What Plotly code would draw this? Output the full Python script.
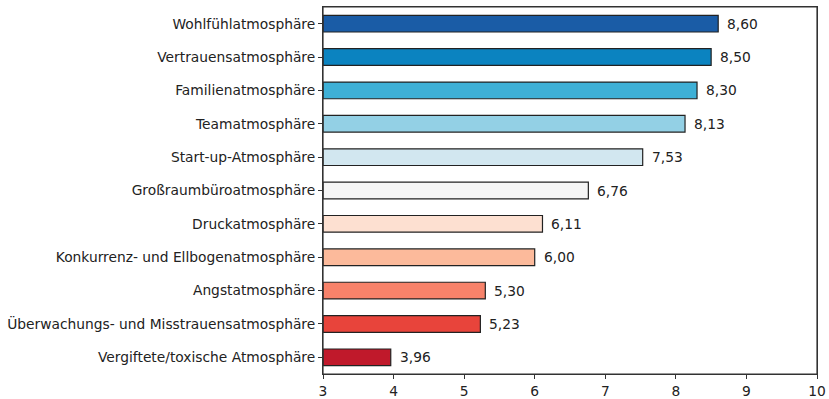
import plotly.graph_objects as go

categories = [
    "Wohlfühlatmosphäre",
    "Vertrauensatmosphäre",
    "Familienatmosphäre",
    "Teamatmosphäre",
    "Start-up-Atmosphäre",
    "Großraumbüroatmosphäre",
    "Druckatmosphäre",
    "Konkurrenz- und Ellbogenatmosphäre",
    "Angstatmosphäre",
    "Überwachungs- und Misstrauensatmosphäre",
    "Vergiftete/toxische Atmosphäre",
]
values = [8.60, 8.50, 8.30, 8.13, 7.53, 6.76, 6.11, 6.00, 5.30, 5.23, 3.96]
value_labels = ["8,60", "8,50", "8,30", "8,13", "7,53", "6,76", "6,11", "6,00", "5,30", "5,23", "3,96"]
colors = ["#1a5ca6", "#0b83c0", "#3eb0d6", "#93d0e5", "#d2e7f0", "#f5f5f5",
          "#fde0d1", "#fcba9b", "#f7826a", "#e8443b", "#c0192b"]
tick_vals = [3, 4, 5, 6, 7, 8, 9, 10]

FONT = "DejaVu Sans"
FS = 13.8

fig = go.Figure()
fig.add_trace(go.Bar(
    x=[v - 3 for v in values],
    base=3,
    y=categories,
    orientation="h",
    width=0.5,
    marker=dict(color=colors, line=dict(color="#222222", width=1.2)),
    hoverinfo="skip",
))

for c, v, t in zip(categories, values, value_labels):
    fig.add_annotation(x=v, y=c, text=t, showarrow=False, xanchor="left",
                       xshift=7, font=dict(family=FONT, size=FS, color="#222222"))

# plot frame
fig.add_shape(type="rect", xref="paper", yref="paper", x0=0, x1=1, y0=0, y1=1,
              line=dict(color="#333333", width=1.2), fillcolor="rgba(0,0,0,0)", layer="above")

fig.update_layout(
    width=829, height=399,
    margin=dict(l=323, r=12, t=7, b=25, autoexpand=False),
    plot_bgcolor="white", paper_bgcolor="white",
    showlegend=False,
    font=dict(family=FONT, size=FS, color="#222222"),
    xaxis=dict(range=[3, 10], tickvals=tick_vals, ticks="outside", ticklen=4,
               tickcolor="#333333", showline=True, mirror=True, linecolor="#333333",
               linewidth=1, showgrid=False, zeroline=False, automargin=False),
    yaxis=dict(range=[10.5, -0.5], ticks="outside", ticklen=4, tickcolor="#333333",
               showline=True, mirror=True, linecolor="#333333", linewidth=1,
               showgrid=False, zeroline=False, automargin=False),
)

fig.write_html(
    "out.html",
    config={"displayModeBar": False},
    post_script=(
        "document.documentElement.style.margin='0';"
        "document.documentElement.style.overflow='hidden';"
        "document.body.style.margin='0';"
        "document.body.style.padding='0';"
        "document.body.style.overflow='hidden';"
    ),
)
